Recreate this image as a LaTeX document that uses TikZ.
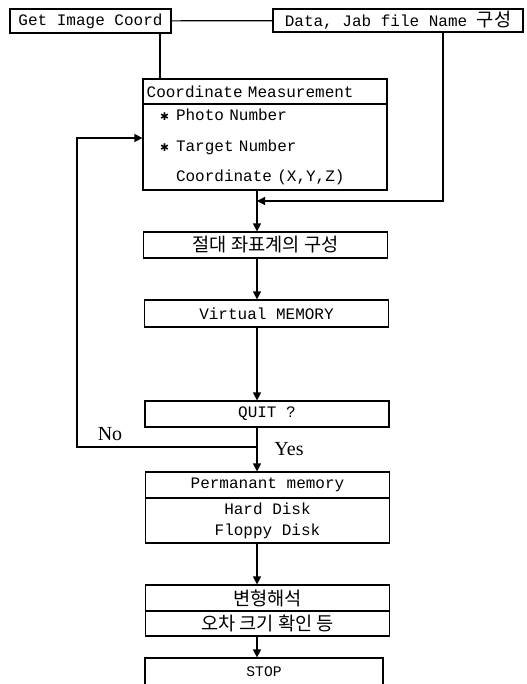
\documentclass[tikz,border=0pt]{standalone}
\usepackage{fontspec}
\setmainfont{Liberation Serif}
\setmonofont{Liberation Mono}
\newfontfamily\kr{Noto Sans CJK KR}
\newfontfamily\dingfont{DejaVu Sans}
\usetikzlibrary{arrows.meta}

\newcommand{\bul}{\makebox[12pt][l]{\dingfont\fontsize{8}{8}\selectfont ✱}}

\begin{document}
\begin{tikzpicture}[x=0.75pt, y=-0.75pt,
    box/.style={draw, line width=0.9pt, minimum width=183pt, inner sep=0pt, font=\ttfamily\fontsize{12}{14}\selectfont},
    krbox/.style={box, font=\kr\fontsize{14}{16}\selectfont},
    link/.style={line width=0.9pt},
    flow/.style={line width=0.9pt, -{Triangle[length=6pt, width=6pt]}},
    answer/.style={font=\fontsize{15}{17}\selectfont, inner sep=0pt}]
                    \useasboundingbox (0,0) rectangle (527,684);
                    \node[box, minimum width=120.75pt, minimum height=18pt] (getimg) at (90.5,21) {Get Image Coord};
                    \node[box, minimum width=187.5pt, minimum height=17.25pt] (datafile) at (398,20.5) {Data, Jab file Name {\kr\fontsize{14}{16}\selectfont 구성}};
                    \node[box, text width=177.5pt, inner xsep=2pt, align=left, minimum height=18.75pt] (coordhead) at (265,91.5) {Coordinate Measurement};
                    \node[box, text width=157.5pt, inner xsep=12pt, align=left, minimum height=64.5pt, font=\ttfamily\fontsize{12}{23}\selectfont] (coordbody) at (265,147)
                        {\bul Photo Number\\ \bul Target Number\\ \hspace*{12pt}Coordinate (X,Y,Z)};
                    \node[krbox, minimum height=19.5pt] (absframe) at (265.5,245) {절대 좌표계의 구성};
                    \node[box, minimum height=20.25pt] (virtmem) at (266.5,313.5) {Virtual MEMORY};
                    \node[box, minimum height=19.5pt] (quit) at (267,414) {QUIT ?};
                    \node[box, minimum height=19.5pt] (permhead) at (267.5,485) {Permanant memory};
                    \node[box, minimum height=33.75pt, align=center, font=\ttfamily\fontsize{12}{15.75}\selectfont] (permbody) at (267.5,520.5) {Hard Disk\\Floppy Disk};
                    \node[krbox, minimum height=19.5pt] (deform) at (267.5,598) {변형해석};
                    \node[krbox, minimum height=18.75pt] (errchk) at (267.5,623.5) {오차 크기 확인 등};
                    \node[box, minimum width=178.5pt, minimum height=21pt, font=\ttfamily\fontsize{11}{13}\selectfont] (stop) at (264,672) {STOP};
                    \node[answer] (nolbl) at (110,434) {No};
                    \node[answer] (yeslbl) at (289,449) {Yes};

                    \coordinate (spine) at (257,0);
                    \coordinate (tap) at (160,0);
                    \coordinate (feed) at (443,0);
                    \coordinate (join) at (257,201);
                    \coordinate (branch) at (257,447);
                    \coordinate (back) at (77,138);

                    \draw[link] (getimg) -- (datafile);
                    \draw[link] (getimg.south -| tap) -- (coordhead.north -| tap);
                    \draw[flow] (datafile.south -| feed) |- (join);
                    \draw[flow] (coordbody.south -| spine) -- (absframe.north -| spine);
                    \draw[flow] (absframe.south -| spine) -- (virtmem.north -| spine);
                    \draw[flow] (virtmem.south -| spine) -- (quit.north -| spine);
                    \draw[flow] (quit.south -| spine) -- (permhead.north -| spine);
                    \draw[flow] (branch) -| (back) -- (back -| coordbody.west);
                    \draw[flow] (permbody.south -| spine) -- (deform.north -| spine);
                    \draw[flow] (errchk.south -| spine) -- (stop.north -| spine);
                \end{tikzpicture}
\end{document}
